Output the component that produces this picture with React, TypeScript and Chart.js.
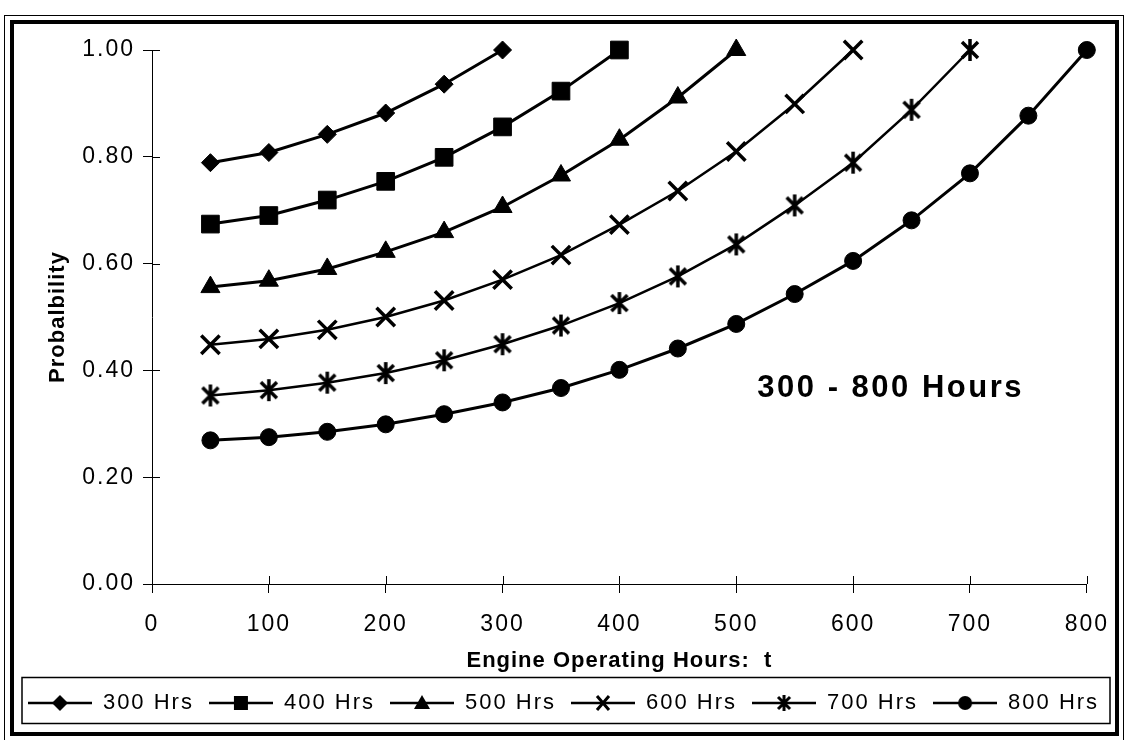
import React, { useEffect, useRef } from 'react';
import { Chart, registerables } from 'chart.js';

Chart.register(...registerables);

const FONT = "'Liberation Sans', Arial, Helvetica, sans-serif";

// ---- data ----
const hours = [50, 100, 150, 200, 250, 300, 350, 400, 450, 500, 550, 600, 650, 700, 750, 800];
const seriesNames = ['300 Hrs', '400 Hrs', '500 Hrs', '600 Hrs', '700 Hrs', '800 Hrs'];
const p300 = [0.789, 0.808, 0.842, 0.882, 0.936, 1.0];
const p400 = [0.674, 0.69, 0.719, 0.754, 0.799, 0.856, 0.923, 1.0];
const p500 = [0.556, 0.568, 0.59, 0.622, 0.659, 0.706, 0.765, 0.832, 0.911, 1.0];
const p600 = [0.448, 0.459, 0.476, 0.5, 0.531, 0.57, 0.616, 0.673, 0.736, 0.81, 0.899, 1.0];
const p700 = [0.353, 0.363, 0.377, 0.395, 0.419, 0.449, 0.484, 0.526, 0.576, 0.636, 0.709, 0.789, 0.888, 1.0];
const p800 = [0.269, 0.275, 0.285, 0.299, 0.318, 0.34, 0.367, 0.401, 0.441, 0.487, 0.543, 0.605, 0.681, 0.769, 0.877, 1.0];
const xTickValues = [0, 100, 200, 300, 400, 500, 600, 700, 800];
const yTickValues = [0, 0.2, 0.4, 0.6, 0.8, 1.0];
const xTitle = 'Engine Operating Hours:  t';
const yTitle = 'Probalbility';
const annotationText = '300 - 800 Hours';
const annotationAt = { x: 518, y: 0.35 };

const allSeries = [p300, p400, p500, p600, p700, p800];
const markerKinds = ['diamond', 'square', 'triangle', 'x', 'asterisk', 'circle'];

function drawMarker(ctx: CanvasRenderingContext2D, kind: string, cx: number, cy: number) {
  ctx.fillStyle = '#000';
  ctx.strokeStyle = '#000';
  ctx.lineCap = 'butt';
  ctx.beginPath();
  switch (kind) {
    case 'diamond':
      ctx.moveTo(cx, cy - 8);
      ctx.lineTo(cx + 8, cy);
      ctx.lineTo(cx, cy + 8);
      ctx.lineTo(cx - 8, cy);
      ctx.closePath();
      ctx.fill();
      break;
    case 'square':
      ctx.rect(cx - 7, cy - 7, 14, 14);
      ctx.fill();
      break;
    case 'triangle':
      ctx.moveTo(cx, cy - 8);
      ctx.lineTo(cx + 8, cy + 6);
      ctx.lineTo(cx - 8, cy + 6);
      ctx.closePath();
      ctx.fill();
      break;
    case 'x':
      ctx.lineWidth = 3;
      ctx.moveTo(cx - 6, cy - 7);
      ctx.lineTo(cx + 6, cy + 7);
      ctx.moveTo(cx + 6, cy - 7);
      ctx.lineTo(cx - 6, cy + 7);
      ctx.stroke();
      break;
    case 'asterisk':
      ctx.lineWidth = 3;
      ctx.moveTo(cx - 6, cy - 6);
      ctx.lineTo(cx + 6, cy + 6);
      ctx.moveTo(cx + 6, cy - 6);
      ctx.lineTo(cx - 6, cy + 6);
      ctx.moveTo(cx, cy - 8);
      ctx.lineTo(cx, cy + 8);
      ctx.stroke();
      break;
    case 'circle':
      ctx.arc(cx, cy, 7, 0, Math.PI * 2);
      ctx.fill();
      break;
  }
}

function makeLegendIcon(kind: string): HTMLCanvasElement {
  const c = document.createElement('canvas');
  c.width = 64;
  c.height = 22;
  const ctx = c.getContext('2d')!;
  ctx.strokeStyle = '#000';
  ctx.lineWidth = 2.5;
  ctx.beginPath();
  ctx.moveTo(0, 11);
  ctx.lineTo(64, 11);
  ctx.stroke();
  drawMarker(ctx, kind, 32, 11);
  return c;
}

function makeAsteriskPoint(): HTMLCanvasElement {
  const c = document.createElement('canvas');
  c.width = 24;
  c.height = 24;
  const ctx = c.getContext('2d')!;
  ctx.strokeStyle = '#000';
  ctx.lineWidth = 3.5;
  ctx.beginPath();
  ctx.moveTo(4, 4);
  ctx.lineTo(20, 20);
  ctx.moveTo(20, 4);
  ctx.lineTo(4, 20);
  ctx.moveTo(12, 1);
  ctx.lineTo(12, 23);
  ctx.stroke();
  return c;
}

const LABEL_SPACING = '2px';
const TITLE_SPACING = '1px';

const spacingPlugin = {
  id: 'letterSpacing',
  beforeUpdate(chart: any) {
    chart.ctx.letterSpacing = LABEL_SPACING;
  },
  beforeLayout(chart: any) {
    chart.ctx.letterSpacing = LABEL_SPACING;
  },
  afterLayout(chart: any) {
    Object.values(chart.scales).forEach((s: any) => {
      if (s.__lsPatched) return;
      const orig = s.drawTitle;
      s.drawTitle = function (...args: any[]) {
        const c = this.ctx;
        c.save();
        c.letterSpacing = TITLE_SPACING;
        orig.apply(this, args);
        c.restore();
      };
      s.__lsPatched = true;
    });
  },
  beforeDraw(chart: any) {
    chart.ctx.letterSpacing = LABEL_SPACING;
  },
};

const decorPlugin = {
  id: 'decor',
  afterDraw(chart: any) {
    const ctx: CanvasRenderingContext2D = chart.ctx;
    const xs = chart.scales.x;
    const ys = chart.scales.y;
    ctx.save();
    ctx.strokeStyle = '#000';
    ctx.lineWidth = 1;
    ctx.beginPath();
    xTickValues.forEach((v) => {
      const px = Math.round(xs.getPixelForValue(v)) + 0.5;
      ctx.moveTo(px, ys.bottom);
      ctx.lineTo(px, ys.bottom - 8);
    });
    yTickValues.forEach((v) => {
      const py = Math.round(ys.getPixelForValue(v)) + 0.5;
      ctx.moveTo(xs.left, py);
      ctx.lineTo(xs.left + 8, py);
    });
    ctx.stroke();

    // legend box
    const lg = chart.legend;
    ctx.lineWidth = 1.5;
    ctx.strokeRect(22, lg.top + 0.5, 1088, lg.height - 1);

    // frames
    ctx.lineWidth = 1;
    ctx.strokeRect(4.5, 15.5, 1119, 730);
    ctx.lineWidth = 4;
    ctx.strokeRect(12, 22, 1105, 712);

    // annotation
    (ctx as any).letterSpacing = '2.5px';
    ctx.font = `bold 31px ${FONT}`;
    ctx.fillStyle = '#000';
    ctx.textAlign = 'left';
    ctx.textBaseline = 'alphabetic';
    ctx.fillText(annotationText, xs.getPixelForValue(annotationAt.x), ys.getPixelForValue(annotationAt.y));
    ctx.restore();
  },
};

export default function App() {
  const ref = useRef<HTMLCanvasElement>(null);

  useEffect(() => {
    const canvas = ref.current!;
    const legendIcons = markerKinds.map((k) => makeLegendIcon(k));
    const asterisk = makeAsteriskPoint();

    const pointStyles: any[] = ['rectRot', 'rect', 'triangle', 'crossRot', asterisk, 'circle'];
    const pointRadii = [9, 12.5, 11, 13, 12, 8.5];
    const pointBorders = [1, 1, 1, 3.5, 1, 1];
    const lineWidths = [3, 3, 3, 2.5, 2.5, 3];

    const datasets = allSeries.map((vals, i) => ({
      label: seriesNames[i],
      data: vals.map((y, j) => ({ x: hours[j], y })),
      borderColor: '#000',
      backgroundColor: '#000',
      borderWidth: lineWidths[i],
      tension: 0,
      pointStyle: pointStyles[i],
      pointRadius: pointRadii[i],
      pointHoverRadius: pointRadii[i],
      pointBackgroundColor: '#000',
      pointBorderColor: '#000',
      pointBorderWidth: pointBorders[i],
      clip: false as any,
      yAxisID: 'y',
      xAxisID: 'x',
    }));

    const chart = new Chart(canvas, {
      type: 'line',
      data: { datasets },
      options: {
        animation: false,
        responsive: false,
        devicePixelRatio: 1,
        layout: { padding: { top: 50, bottom: 16, left: 0, right: 0 } },
        plugins: {
          tooltip: { enabled: false },
          legend: {
            display: true,
            position: 'bottom',
            labels: {
              usePointStyle: true,
              pointStyleWidth: 64,
              padding: 15,
              color: '#000',
              font: { family: FONT, size: 22 },
              generateLabels: (ch: any) => {
                const items = (Chart.defaults.plugins.legend.labels as any).generateLabels(ch);
                return items.map((it: any, i: number) => ({ ...it, pointStyle: legendIcons[i], lineWidth: 0 }));
              },
            },
          },
        },
        scales: {
          x: {
            type: 'linear',
            position: 'bottom',
            min: 0,
            max: 800,
            afterFit: (s: any) => {
              s.height = 93;
            },
            ticks: {
              stepSize: 100,
              color: '#000',
              padding: 18,
              maxRotation: 0,
              autoSkip: false,
              font: { family: FONT, size: 23 },
              callback: (v: any) => String(v),
            },
            grid: { display: true, drawOnChartArea: false, drawTicks: true, tickLength: 9, color: '#000', lineWidth: 1 },
            border: { display: true, color: '#000', width: 1 },
            title: {
              display: true,
              text: xTitle,
              color: '#000',
              font: { family: FONT, size: 22, weight: 'bold' },
              padding: { top: 0, bottom: 3 },
            },
          },
          y: {
            type: 'linear',
            position: 'left',
            min: 0,
            max: 1,
            afterFit: (s: any) => {
              s.width = 152;
            },
            ticks: {
              stepSize: 0.2,
              color: '#000',
              padding: 8,
              font: { family: FONT, size: 23 },
              callback: (v: any) => Number(v).toFixed(2),
            },
            grid: { display: true, drawOnChartArea: false, drawTicks: true, tickLength: 9, color: '#000', lineWidth: 1 },
            border: { display: true, color: '#000', width: 1 },
            title: {
              display: true,
              text: yTitle,
              color: '#000',
              font: { family: FONT, size: 22, weight: 'bold' },
              padding: { top: 45, bottom: 0 },
            },
          },
          yR: {
            type: 'linear',
            position: 'right',
            display: true,
            min: 0,
            max: 1,
            afterFit: (s: any) => {
              s.width = 40;
            },
            ticks: { display: false },
            grid: { display: false },
            border: { display: false },
          },
        },
      } as any,
      plugins: [spacingPlugin, decorPlugin],
    });

    return () => {
      chart.destroy();
    };
  }, []);

  return (
    <div style={{ position: 'absolute', left: 0, top: 0, width: 1127, height: 740, background: '#fff' }}>
      <canvas ref={ref} width={1127} height={740} style={{ display: 'block', width: 1127, height: 740 }} />
    </div>
  );
}
